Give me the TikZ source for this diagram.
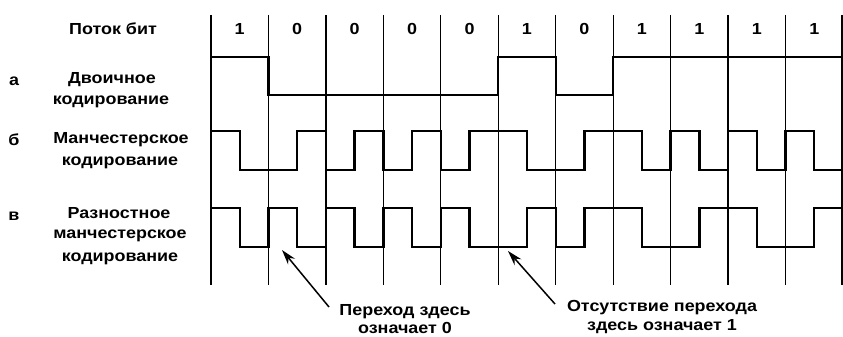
\documentclass[tikz,border=0pt]{standalone}
\usepackage{fontspec}
\setmainfont{Liberation Sans}[FakeStretch=1.12]
\usetikzlibrary{arrows.meta}
\begin{document}
\begin{tikzpicture}[x=1pt,y=-1pt,
  gridline/.style={line width=1.3pt},
  wave/.style={line width=2.4pt, line join=miter},
  txt/.style={font=\bfseries\fontsize{16}{18}\selectfont, inner sep=0pt, anchor=center},
  note/.style={font=\bfseries\fontsize{16}{18.5}\selectfont, inner sep=0pt, align=center},
  pointer/.style={line width=1.5pt, -{Stealth[length=15pt,width=9pt]}}]
\useasboundingbox (0,0) rectangle (843,337);
\def\w{57.45}
\def\h{28.725}
% grid lines
\foreach \i in {0,...,10} {\draw[gridline] (211+\i*\w,15) -- (211+\i*\w,285);}
\draw[gridline] (842,15) -- (842,285);
% headers
\node[txt] (stream) at (113,29) {Поток бит};
\foreach \b [count=\i from 0] in {1,0,0,0,0,1,0,1,1,1,1}
  {\node[txt] (bit\i) at (211+\i*\w+0.5*\w,29) {\b};}
% row labels
\node[txt] (la) at (14,81) {а};
\node[txt] (a1) at (112,80) {Двоичное};
\node[txt] (a2) at (111,102) {кодирование};
\node[txt] (lb) at (14,140) {б};
\node[txt] (b1) at (121,140) {Манчестерское};
\node[txt] (b2) at (120,163) {кодирование};
\node[txt] (lc) at (14,216) {в};
\node[txt] (c1) at (119,213) {Разностное};
\node[txt] (c2) at (120,236) {манчестерское};
\node[txt] (c3) at (120,259) {кодирование};
% binary
\draw[wave] (211,57) -- (211+\w,57) -- (211+\w,95) -- (211+5*\w,95) -- (211+5*\w,57)
  -- (211+6*\w,57) -- (211+6*\w,95) -- (211+7*\w,95) -- (211+7*\w,57) -- (842,57);
% manchester
\draw[wave] (211,131) \foreach \l [count=\i from 0] in
  {131,170, 170,131, 170,131, 170,131, 170,131, 131,170, 170,131, 131,170, 131,170, 131,170, 131,170}
  { -- (211+\i*\h,\l) -- (211+\i*\h+\h,\l) };
% differential manchester
\draw[wave] (211,208) \foreach \l [count=\i from 0] in
  {208,247, 208,247, 208,247, 208,247, 208,247, 247,208, 247,208, 208,247, 247,208, 208,247, 247,208}
  { -- (211+\i*\h,\l) -- (211+\i*\h+\h,\l) };
% annotations
\node[note] (n1) at (405,319) {Переход здесь\\означает 0};
\node[note] (n2) at (662,317) {Отсутствие перехода\\здесь означает 1};
\coordinate (t1) at (282,250);
\coordinate (t2) at (508,251);
\coordinate (s1) at (329,307);
\coordinate (s2) at (555,304);
\draw[pointer] (s1) -- (t1);
\draw[pointer] (s2) -- (t2);
\end{tikzpicture}
\end{document}
